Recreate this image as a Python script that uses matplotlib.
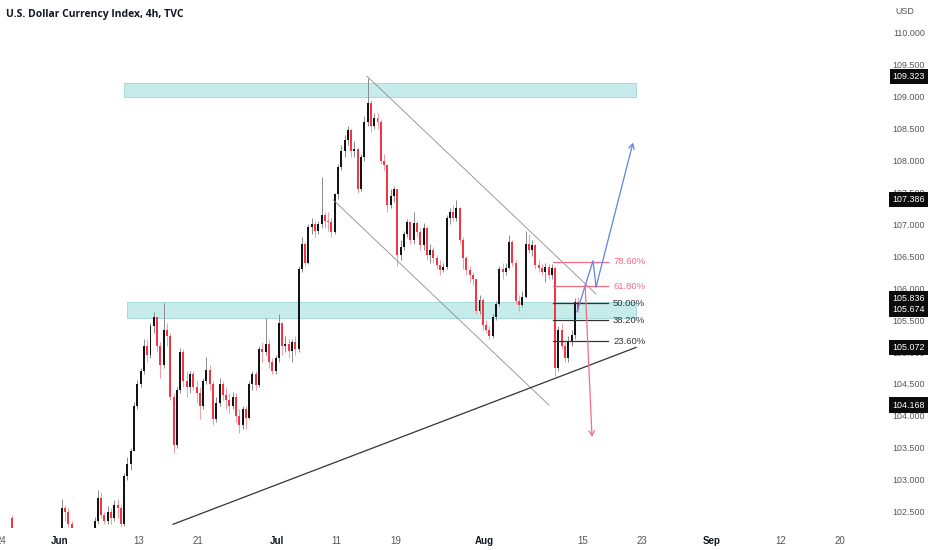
import numpy as np
import matplotlib
matplotlib.use("Agg")
import matplotlib.pyplot as plt
from matplotlib.patches import Rectangle

# 8h candles, x measured in trading days (0 = Jun 1, weekends skipped)
first_open = 102.40
closes = [102.15, 102.05, 101.95, 101.85, 101.9, 101.75, 101.8, 101.7, 101.65, 101.75,
          101.8, 101.6, 101.7, 101.8, 101.95,
          102.55, 102.5, 102.3, 102.0, 101.8,
          101.6, 101.7, 101.9, 102.0, 102.1,
          102.35, 102.72, 102.45, 102.35, 102.5,
          102.4, 102.6, 102.55, 102.3, 103.05,
          103.25, 103.45, 104.15, 104.5, 104.7,
          105.1, 104.95, 105.4, 105.55, 105.1,
          104.8, 105.35, 105.25, 104.3, 103.55,
          104.4, 105.0, 104.55, 104.45, 104.65,
          104.45, 104.35, 104.15, 104.55, 104.72,
          104.5, 103.95, 104.2, 104.5, 104.32,
          104.25, 104.15, 104.3, 104.0, 103.85,
          104.1, 103.97, 104.5, 104.65, 104.48,
          105.05, 105.0, 105.12, 104.85, 104.7,
          104.9, 105.45, 105.1, 105.12, 105.02,
          105.15, 105.05, 106.3, 106.7, 106.4,
          106.96, 107.0, 106.9, 107.0, 107.15,
          107.05, 107.03, 106.88, 107.47, 107.9,
          108.15, 108.32, 108.48, 108.15, 108.18,
          107.55, 108.05, 108.6, 108.9, 108.55,
          108.67, 108.6, 108.0, 107.93, 107.3,
          107.45, 107.55, 106.52, 106.65, 106.85,
          107.03, 106.75, 107.02, 106.88, 106.68,
          106.95, 106.52, 106.6, 106.47, 106.37,
          106.28, 106.33, 107.1, 107.2, 107.1,
          107.25, 106.75, 106.47, 106.28, 106.2,
          106.15, 105.65, 105.82, 105.42, 105.35,
          105.25, 105.55, 105.75, 106.3, 106.25,
          106.32, 106.72, 106.4, 105.8, 105.73,
          105.86, 106.7, 106.6, 106.68, 106.37,
          106.32, 106.25, 106.33, 106.2, 106.32,
          104.75, 105.35, 105.1, 104.9, 105.18,
          105.27, 105.78, 105.67]
highs = [102.45, 102.2, 102.1, 102.0, 102.0, 101.95, 101.9, 101.85, 101.8, 101.85,
         101.9, 101.85, 101.8, 101.9, 102.05,
         102.7, 102.6, 102.55, 102.35, 102.05,
         101.85, 101.8, 101.95, 102.05, 102.15,
         102.42, 102.84, 102.8, 102.5, 102.58,
         102.55, 102.68, 102.7, 102.6, 103.1,
         103.35, 103.5, 104.22, 104.56, 104.75,
         105.2, 105.2, 105.45, 105.63, 105.55,
         105.15, 105.77, 105.45, 105.3, 104.35,
         104.45, 105.07, 105.05, 104.7, 104.7,
         104.7, 104.55, 104.45, 104.6, 104.92,
         104.8, 104.55, 104.3, 104.6, 104.55,
         104.45, 104.35, 104.38, 104.35, 104.1,
         104.15, 104.15, 104.55, 104.7, 104.7,
         105.1, 105.15, 105.53, 105.2, 104.9,
         104.95, 105.6, 105.45, 105.25, 105.2,
         105.2, 105.25, 106.35, 106.8, 106.72,
         107.0, 107.1, 107.05, 107.05, 107.75,
         107.2, 107.2, 107.1, 107.5, 107.95,
         108.25, 108.4, 108.55, 108.5, 108.3,
         108.2, 108.1, 108.7, 109.3, 108.95,
         108.75, 108.75, 108.65, 108.1, 107.95,
         107.55, 107.6, 107.55, 106.75, 106.9,
         107.08, 107.05, 107.2, 107.05, 106.95,
         107.02, 106.98, 106.7, 106.65, 106.52,
         106.45, 106.4, 107.15, 107.25, 107.3,
         107.38, 107.27, 106.8, 106.5, 106.35,
         106.25, 106.15, 105.9, 105.85, 105.5,
         105.4, 105.6, 105.8, 106.35, 106.4,
         106.4, 106.83, 106.75, 106.45, 105.9,
         105.95, 106.9, 106.85, 106.75, 106.7,
         106.45, 106.38, 106.4, 106.38, 106.38,
         106.35, 105.4, 105.45, 105.15, 105.25,
         105.35, 105.85, 105.86]
lows = [102.1, 101.95, 101.85, 101.75, 101.8, 101.7, 101.7, 101.6, 101.55, 101.6,
        101.7, 101.55, 101.55, 101.65, 101.75,
        101.9, 102.35, 102.25, 101.95, 101.75,
        101.55, 101.55, 101.65, 101.85, 101.95,
        102.05, 102.3, 102.4, 102.3, 102.3,
        102.3, 102.35, 102.4, 102.25, 102.28,
        103.0, 103.15, 103.45, 104.1, 104.45,
        104.65, 104.85, 104.9, 105.3, 105.0,
        104.6, 104.75, 105.1, 104.25, 103.42,
        103.5, 104.35, 104.45, 104.3, 104.35,
        104.4, 104.2, 103.95, 104.1, 104.5,
        104.4, 103.85, 103.9, 104.15, 104.25,
        104.1, 104.05, 104.1, 103.9, 103.73,
        103.8, 103.8, 103.95, 104.4, 104.4,
        104.45, 104.85, 104.95, 104.75, 104.65,
        104.65, 104.85, 104.95, 105.0, 104.9,
        104.85, 104.95, 105.0, 106.25, 106.35,
        106.38, 106.85, 106.8, 106.85, 106.95,
        106.95, 106.9, 106.8, 106.85, 107.4,
        107.85, 108.05, 108.25, 108.05, 108.05,
        107.5, 107.52, 108.0, 108.55, 108.45,
        108.5, 108.5, 107.95, 107.85, 107.2,
        107.25, 107.35, 106.35, 106.45, 106.6,
        106.8, 106.7, 106.7, 106.8, 106.6,
        106.6, 106.45, 106.4, 106.4, 106.3,
        106.2, 106.25, 106.3, 107.0, 107.05,
        107.05, 106.7, 106.3, 106.2, 106.1,
        106.05, 105.6, 105.6, 105.35, 105.3,
        105.2, 105.22, 105.5, 105.72, 106.15,
        106.2, 106.3, 106.35, 105.75, 105.65,
        105.7, 105.85, 106.55, 106.5, 106.3,
        106.25, 106.2, 106.1, 106.15, 106.15,
        104.63, 104.7, 105.05, 104.85, 104.85,
        105.1, 105.2, 105.62]
start_day = -5          # first candle: May 25
bars_per_day = 3

tick_days = [-6, 0, 8, 14, 22, 28, 34, 43, 53, 59, 66, 73, 79]
tick_labels = ["24", "Jun", "13", "21", "Jul", "11", "19", "Aug", "15", "23", "Sep", "12", "20"]
month_labels = ["Jun", "Jul", "Aug", "Sep"]
price_ticks = np.arange(102.5, 110.01, 0.5)
marked_prices = [109.323, 107.386, 105.836, 105.674, 105.072, 104.168]

# drawings (trading day, price)
zone_top = (6.48, 58.36, 109.0, 109.216)
zone_mid = (6.79, 58.36, 105.53, 105.78)
channel_upper = [(31.1, 109.323), (54.3, 105.91)]
channel_lower = [(27.66, 107.386), (49.54, 104.168)]
trend_line = [(11.45, 102.30), (58.36, 105.072)]
fib_low, fib_high = 104.63, 106.90
fib_levels = [0.236, 0.382, 0.5, 0.618, 0.786]
fib_x = (49.95, 55.52)
blue_path = [(52.38, 105.63), (54.0, 106.43), (54.31, 106.02), (58.05, 108.28)]
red_path = [(53.2, 106.05), (53.9, 103.67)]

closes = np.array(closes)
highs = np.array(highs)
lows = np.array(lows)
opens = np.concatenate([[first_open], closes[:-1]])
highs = np.maximum(highs, np.maximum(opens, closes))
lows = np.minimum(lows, np.minimum(opens, closes))
x = start_day + (np.arange(len(closes)) + 0.5) / bars_per_day
up = closes >= opens

RED = "#f23645"
narrow = ["Liberation Sans", "DejaVu Sans"]
fig = plt.figure(figsize=(9.32, 5.5), dpi=100)
ax = fig.add_axes([0, 22 / 550, 868 / 932, 528 / 550])
ax.set_xlim(-6.08, 81.86)
ax.set_ylim(102.242, 110.517)
for s in ax.spines.values():
    s.set_visible(False)

# zones
for x0, x1, y0, y1 in [zone_top, zone_mid]:
    ax.add_patch(Rectangle((x0, y0), x1 - x0, y1 - y0, facecolor="#c6ebeb",
                           edgecolor="#9ed6d6", lw=0.6, zorder=1))

# candles
wick_col = np.where(up, "#8a8a8a", "#f59aa4")
ax.vlines(x, lows, highs, colors=wick_col, lw=0.7, zorder=2)
body_h = np.maximum(np.abs(closes - opens), 0.012)
ax.bar(x, body_h, bottom=np.minimum(opens, closes), width=0.6 / bars_per_day,
       color=np.where(up, "#131313", RED), lw=0, zorder=3)

# channel and trend line
for seg, col, lw in [(channel_upper, "#8c8c8c", 0.6), (channel_lower, "#8c8c8c", 0.6),
                     (trend_line, "#333333", 0.9)]:
    xs, ys = zip(*seg)
    ax.plot(xs, ys, color=col, lw=lw, zorder=4)

# fib retracement
fx = (613 - 60) / 9.87
for lv in fib_levels:
    p = fib_low + (fib_high - fib_low) * lv
    col = "#f56c82" if lv > 0.55 else "#333333"
    ax.plot(fib_x, [p, p], color=col, lw=0.9, zorder=4)
    ax.text(fx, p, "%.2f%%" % (lv * 100), color=col, fontsize=6.8, va="center",
            ha="left", family=narrow, zorder=5)

# projection paths
bx, by = zip(*blue_path)
ax.plot(bx[:-1], by[:-1], color="#5b82e6", lw=0.9, zorder=5)
ax.annotate("", xy=blue_path[-1], xytext=blue_path[-2],
            arrowprops=dict(arrowstyle="->,head_length=0.35,head_width=0.2",
                            color="#5b82e6", lw=0.9, shrinkA=0, shrinkB=0), zorder=5)
ax.annotate("", xy=red_path[-1], xytext=red_path[0],
            arrowprops=dict(arrowstyle="->,head_length=0.35,head_width=0.2",
                            color="#f56c82", lw=0.9, shrinkA=0, shrinkB=0), zorder=5)

# axes labels
ax.yaxis.tick_right()
ax.set_yticks(price_ticks)
ax.set_yticklabels(["%.3f" % p for p in price_ticks], family=narrow, fontsize=6.4,
                   color="#555555", ha="right")
ax.tick_params(axis="y", length=0, pad=(925 - 868) * 0.72)
ax.set_xticks(tick_days)
ax.set_xticklabels(tick_labels, family=narrow, fontsize=7)
ax.tick_params(axis="x", length=0, pad=6)
for t in ax.get_xticklabels():
    if t.get_text() in month_labels:
        t.set_color("#131722")
        t.set_fontweight("bold")
    else:
        t.set_color("#555555")

for p in marked_prices:
    ax.text(1 + 57 / 868, p, "%.3f" % p, transform=ax.get_yaxis_transform(),
            ha="right", va="center", color="white", fontsize=6.4, family=narrow,
            bbox=dict(boxstyle="square,pad=0.35", fc="#0c0c0c", ec="none"),
            clip_on=False, zorder=6)

fig.text(895 / 932, 1 - 12 / 550, "USD", fontsize=6.4, color="#555555",
         family=narrow, va="center", ha="left")
fig.text(6 / 932, 1 - 15 / 550, "U.S. Dollar Currency Index, 4h, TVC", fontsize=7.5,
         color="#131722", fontweight="bold", family=["Open Sans", "DejaVu Sans"],
         va="center", ha="left")

fig.savefig("out.png", dpi=100)
